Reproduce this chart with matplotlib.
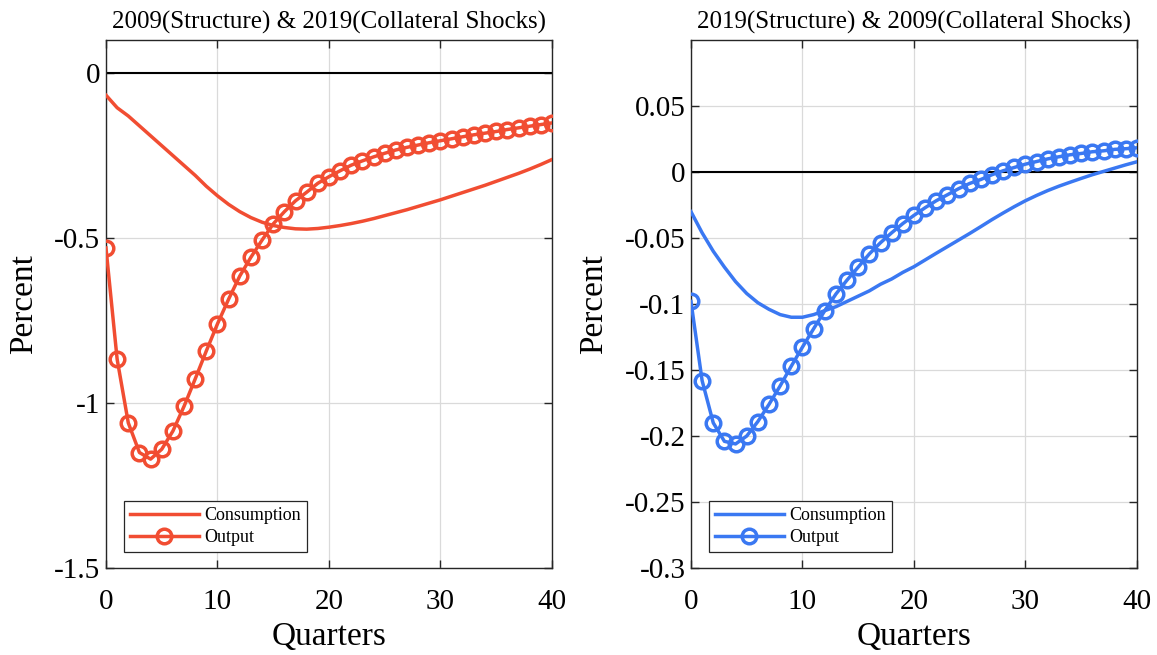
import numpy as np
import matplotlib.pyplot as plt

plt.rcParams['font.family'] = ['Liberation Serif', 'DejaVu Serif']

quarters = np.arange(41)

# left panel: 2009 structure & 2019 collateral shocks
cons_left = [-0.067, -0.105, -0.13, -0.16, -0.19, -0.22, -0.25, -0.28, -0.31, -0.343,
             -0.372, -0.398, -0.42, -0.438, -0.452, -0.462, -0.468, -0.472, -0.473, -0.471,
             -0.467, -0.462, -0.456, -0.449, -0.441, -0.432, -0.423, -0.414, -0.404, -0.394,
             -0.384, -0.373, -0.362, -0.351, -0.34, -0.328, -0.316, -0.304, -0.291, -0.277,
             -0.262]
out_left = [-0.53, -0.867, -1.06, -1.15, -1.17, -1.14, -1.085, -1.01, -0.927, -0.842,
            -0.76, -0.685, -0.615, -0.558, -0.506, -0.457, -0.42, -0.387, -0.361, -0.334,
            -0.314, -0.296, -0.279, -0.266, -0.254, -0.243, -0.233, -0.225, -0.218, -0.211,
            -0.205, -0.199, -0.193, -0.187, -0.182, -0.177, -0.171, -0.166, -0.161, -0.156,
            -0.151]

# right panel: 2019 structure & 2009 collateral shocks
cons_right = [-0.030, -0.046, -0.060, -0.072, -0.083, -0.092, -0.099, -0.104, -0.108, -0.110,
              -0.110, -0.108, -0.105, -0.102, -0.098, -0.094, -0.090, -0.085, -0.081, -0.076,
              -0.0717, -0.0666, -0.0615, -0.0565, -0.0515, -0.0465, -0.0413, -0.036, -0.031, -0.0262,
              -0.0217, -0.0177, -0.014, -0.0107, -0.0077, -0.0048, -0.002, 0.0005, 0.003, 0.0055,
              0.0078]
out_right = [-0.098, -0.158, -0.19, -0.204, -0.206, -0.2, -0.189, -0.176, -0.162, -0.147,
             -0.1326, -0.1187, -0.105, -0.0924, -0.0818, -0.072, -0.062, -0.0535, -0.046, -0.039,
             -0.0328, -0.027, -0.0217, -0.0172, -0.0126, -0.0086, -0.0056, -0.002, 0.001, 0.0035,
             0.006, 0.008, 0.010, 0.0116, 0.0131, 0.0141, 0.0154, 0.0161, 0.0172, 0.0177,
             0.0184]

titles = ['2009(Structure) & 2019(Collateral Shocks)',
          '2019(Structure) & 2009(Collateral Shocks)']
colors = ['#F14D32', '#3A78F2']
ylims = [(-1.5, 0.1), (-0.3, 0.1)]
yticks = [[-1.5, -1, -0.5, 0], [-0.3, -0.25, -0.2, -0.15, -0.1, -0.05, 0, 0.05]]
yticklabels = [['-1.5', '-1', '-0.5', '0'],
               ['-0.3', '-0.25', '-0.2', '-0.15', '-0.1', '-0.05', '0', '0.05']]
xticks = [0, 10, 20, 30, 40]

fig = plt.figure(figsize=(11.57, 6.55), dpi=100)
ax1 = fig.add_axes([0.0916, 0.1328, 0.3855, 0.806])
ax2 = fig.add_axes([0.5972, 0.1328, 0.3855, 0.806])

data = [(cons_left, out_left), (cons_right, out_right)]
for i, ax in enumerate([ax1, ax2]):
    cons, out = data[i]
    c = colors[i]
    ax.axhline(0, color='black', lw=1.5, zorder=2)
    ax.plot(quarters, cons, color=c, lw=2.5, label='Consumption', zorder=3)
    ax.plot(quarters, out, color=c, lw=2.5, marker='o', markersize=10.5,
            markerfacecolor='none', markeredgewidth=2.5, label='Output', zorder=4)
    ax.set_xlim(0, 40)
    ax.set_ylim(*ylims[i])
    ax.set_xticks(xticks)
    ax.set_yticks(yticks[i])
    ax.set_yticklabels(yticklabels[i])
    ax.grid(True, color='#DADADA', lw=0.9)
    ax.set_axisbelow(True)
    ax.tick_params(direction='in', top=True, right=True, labelsize=21,
                   length=6, width=1, colors='#262626')
    ax.tick_params(axis='x', pad=15)
    ax.tick_params(axis='y', pad=4)
    for tl in ax.get_xticklabels() + ax.get_yticklabels():
        tl.set_color('black')
    for s in ax.spines.values():
        s.set_color('#262626')
        s.set_linewidth(1)
    ax.set_xlabel('Quarters', fontsize=24, labelpad=5)
    ax.set_ylabel('Percent', fontsize=24, labelpad=11)
    ax.set_title(titles[i], fontsize=18, pad=8)
    leg = ax.legend(loc='lower left', bbox_to_anchor=(0.04, 0.03), fontsize=13,
                    handlelength=3.8, borderpad=0.35, labelspacing=0.25,
                    handletextpad=0.3, borderaxespad=0, fancybox=False)
    leg.get_frame().set_edgecolor('#262626')
    leg.get_frame().set_linewidth(0.9)
    leg.get_frame().set_alpha(1)

fig.savefig('out.png', dpi=100)
